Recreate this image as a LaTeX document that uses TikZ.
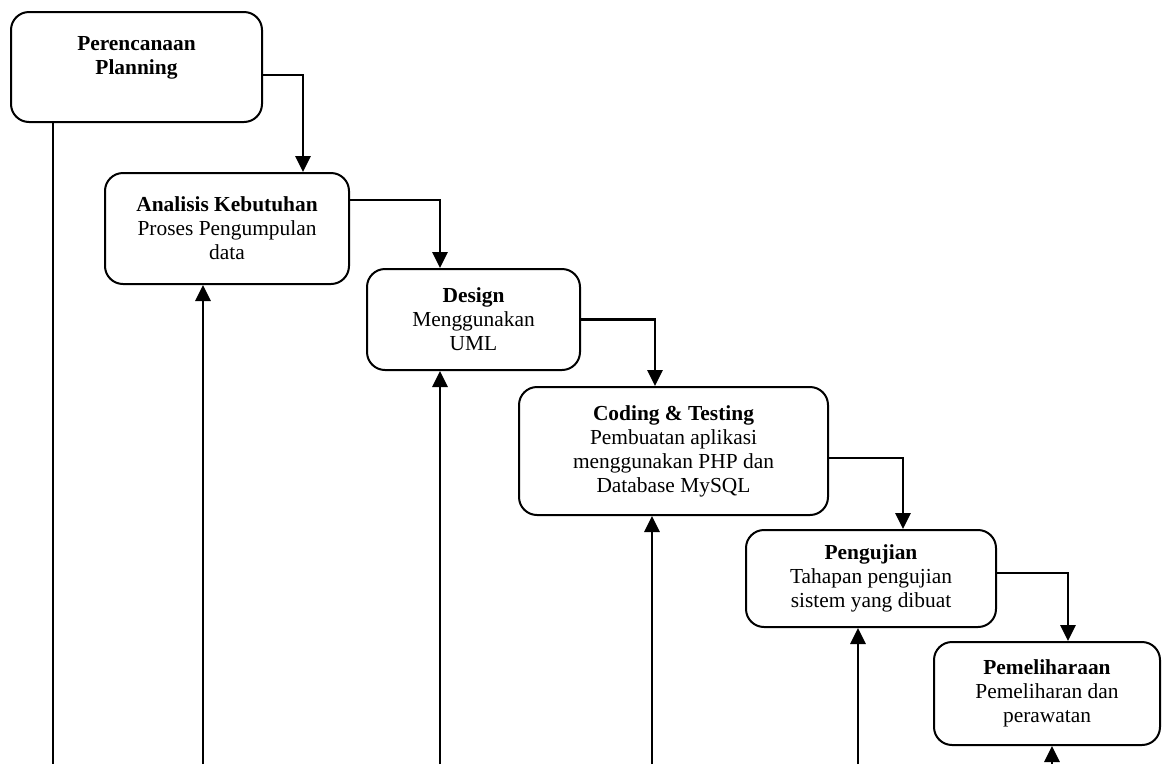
\documentclass[tikz,border=0pt]{standalone}
\usepackage{fontspec}
\setmainfont{Liberation Serif}
\usetikzlibrary{arrows.meta}
\tikzset{
  stage/.style={draw, line width=2pt, rounded corners=18pt, align=center,
    font=\fontsize{21.4}{24}\selectfont, inner sep=0pt},
  flow/.style={line width=2.8pt, -{Triangle[length=16pt,width=15pt]}},
  lead/.style={line width=1.6pt}
}
\begin{document}
\begin{tikzpicture}[x=1pt, y=-1pt]
  \useasboundingbox (0,0) rectangle (1164,764);
  % tahapan
  \node[stage, minimum width=251pt, minimum height=110pt, text depth=24pt] (plan) at (136.5,67)
    {\textbf{Perencanaan}\\\textbf{Planning}};
  \node[stage, minimum width=244pt, minimum height=111pt] (anal) at (227,228.5)
    {\textbf{Analisis Kebutuhan}\\Proses Pengumpulan\\data};
  \node[stage, minimum width=213pt, minimum height=101pt] (desg) at (473.5,319.5)
    {\textbf{Design}\\Menggunakan\\UML};
  \node[stage, minimum width=309pt, minimum height=128pt] (code) at (673.5,451)
    {\textbf{Coding \& Testing}\\Pembuatan aplikasi\\menggunakan PHP dan\\Database MySQL};
  \node[stage, minimum width=250pt, minimum height=97pt] (test) at (871,578.5)
    {\textbf{Pengujian}\\Tahapan pengujian\\sistem yang dibuat};
  \node[stage, minimum width=226pt, minimum height=103pt] (mant) at (1047,693.5)
    {\textbf{Pemeliharaan}\\Pemeliharan dan\\perawatan};
  % alur turun
  \draw[flow] ([yshift=-8pt]plan.east) -| ([xshift=76pt]anal.north);
  \draw[flow] ([yshift=28.5pt]anal.east) -| ([xshift=-33.5pt]desg.north);
  \draw[flow] (desg.east) -| ([xshift=-18.5pt]code.north);
  \draw[flow] ([yshift=-7pt]code.east) -| ([xshift=32pt]test.north);
  \draw[flow] ([yshift=5.5pt]test.east) -| ([xshift=21pt]mant.north);
  % alur balik
  \coordinate (b1) at (53,764);
  \coordinate (b2) at (203,764);
  \coordinate (b3) at (440,764);
  \coordinate (b4) at (652,764);
  \coordinate (b5) at (858,764);
  \coordinate (b6) at (1052,764);
  \draw[lead] (b1 |- plan.south) -- (b1);
  \draw[flow] (b2) -- (b2 |- anal.south);
  \draw[flow] (b3) -- (b3 |- desg.south);
  \draw[flow] (b4) -- (b4 |- code.south);
  \draw[flow] (b5) -- (b5 |- test.south);
  \draw[flow] (b6) -- (b6 |- mant.south);
\end{tikzpicture}
\end{document}
